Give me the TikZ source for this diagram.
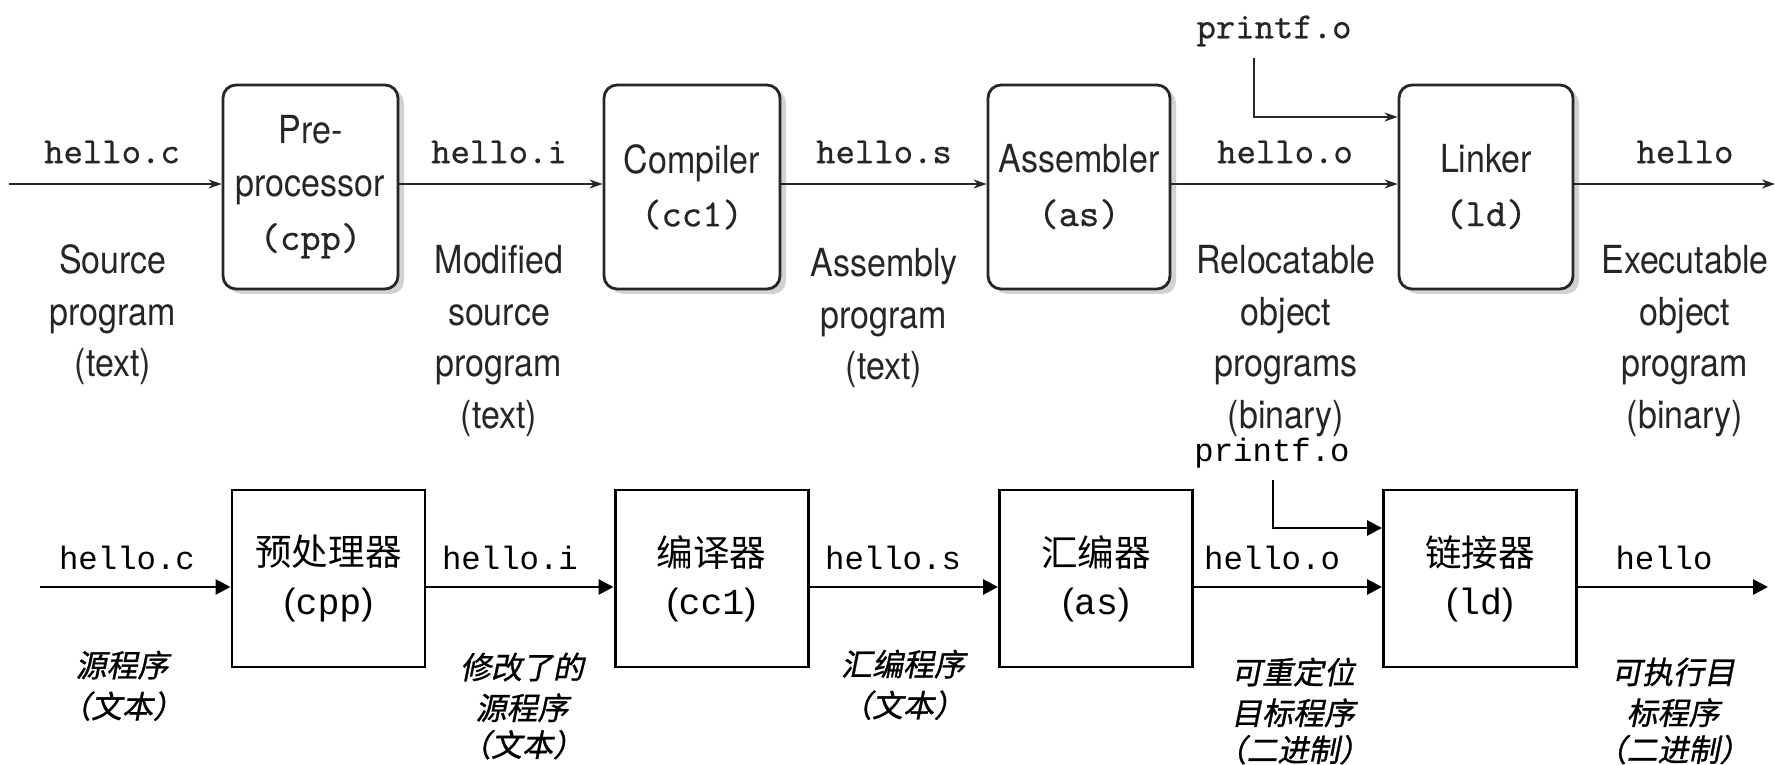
\documentclass[tikz,border=0pt]{standalone}
\usepackage{fontspec}
\usetikzlibrary{shadows, arrows.meta}
\newfontfamily\helv[FakeStretch=0.88]{TeX Gyre Heros}
\newfontfamily\lmtt[FakeBold=0.6]{Latin Modern Mono}
\newfontfamily\cjk{Noto Sans CJK SC}
\newfontfamily\cjkit[FakeSlant=0.2, FakeBold=1]{Noto Sans CJK SC}
\newfontfamily\cour{Liberation Mono}
\newfontfamily\arial{Liberation Sans}
\newcommand{\zcode}[1]{{\arial(}{\cour #1}{\arial)}}
\newcommand{\tcode}[1]{{\lmtt #1}}

\begin{document}
\begin{tikzpicture}[x=0.1mm, y=-0.1mm,
  stage/.style={draw=black!85, line width=0.8pt, rounded corners=1.3mm, fill=white,
    drop shadow={shadow xshift=0.6mm, shadow yshift=-0.5mm, fill=black!35},
    minimum height=20.4mm, align=center, inner sep=0pt, text=black!85,
    font=\helv\fontsize{11}{15.1}\selectfont},
  zstage/.style={draw, line width=0.85pt, minimum width=19.3mm, minimum height=17.7mm,
    align=center, inner sep=0pt, font=\cjk\fontsize{10.4}{13.7}\selectfont},
  fname/.style={inner sep=0pt, text=black!85, font=\lmtt\fontsize{10.5}{12}\selectfont},
  zfname/.style={inner sep=0pt, font=\cour\fontsize{9.2}{11}\selectfont},
  desc/.style={anchor=north, inner sep=0pt, align=center, text=black!85,
    font=\helv\fontsize{11}{14.65}\selectfont},
  zdesc/.style={anchor=north, inner sep=0pt, align=center,
    font=\cjkit\fontsize{8.8}{10.5}\selectfont},
  arr/.style={draw=black!85, line width=0.55pt, -{Stealth[length=1.3mm, width=0.9mm]}},
  zarr/.style={line width=0.8pt, -{Triangle[length=1.5mm, width=1.5mm]}}
]
\useasboundingbox (0,0) rectangle (1777,765);

% upper row
\node[stage, minimum width=17.5mm] (pp) at (310.5,187) {Pre-\\processor\\\tcode{(cpp)}};
\node[stage, minimum width=17.6mm] (cc) at (692,187) {Compiler\\\tcode{(cc1)}};
\node[stage, minimum width=18.2mm] (as) at (1079,187) {Assembler\\\tcode{(as)}};
\node[stage, minimum width=17.4mm] (ln) at (1486,187) {Linker\\\tcode{(ld)}};

\coordinate (tin) at (9,184);
\coordinate (tout) at (1775,184);
\coordinate (tpa) at (1254,58);
\coordinate (tpb) at (1254,117);
\draw[arr] (tin) -- (pp.west |- tin);
\draw[arr] (pp.east |- tin) -- (cc.west |- tin);
\draw[arr] (cc.east |- tin) -- (as.west |- tin);
\draw[arr] (as.east |- tin) -- (ln.west |- tin);
\draw[arr] (ln.east |- tin) -- (tout);
\draw[arr] (tpa) -- (tpb) -- (tpb -| ln.west);

\node[fname] (fc) at (112,152) {hello.c};
\node[fname] (fi) at (499,152) {hello.i};
\node[fname] (fs) at (884,152) {hello.s};
\node[fname] (fo) at (1285,152) {hello.o};
\node[fname] (fx) at (1685,152) {hello};
\node[fname] (fp) at (1274,31) {printf.o};

\node[desc] (dc) at (113,237) {\strut Source\\program\\(text)};
\node[desc] (di) at (499,237) {\strut Modified\\source\\program\\(text)};
\node[desc] (ds) at (884,240) {\strut Assembly\\program\\(text)};
\node[desc] (do) at (1286,237) {\strut Relocatable\\object\\programs\\(binary)};
\node[desc] (dx) at (1685,237) {\strut Executable\\object\\program\\(binary)};

% lower row
\node[zstage] (zpp) at (328.5,578.5) {预处理器\\\zcode{cpp}};
\node[zstage] (zcc) at (711.5,578.5) {编译器\\\zcode{cc1}};
\node[zstage] (zas) at (1096,578.5) {汇编器\\\zcode{as}};
\node[zstage] (zln) at (1480,578.5) {链接器\\\zcode{ld}};

\coordinate (bin) at (40,587);
\coordinate (bout) at (1768,587);
\coordinate (bpa) at (1273,480);
\coordinate (bpb) at (1273,528);
\draw[zarr] (bin) -- (zpp.west |- bin);
\draw[zarr] (zpp.east |- bin) -- (zcc.west |- bin);
\draw[zarr] (zcc.east |- bin) -- (zas.west |- bin);
\draw[zarr] (zas.east |- bin) -- (zln.west |- bin);
\draw[zarr] (zln.east |- bin) -- (bout);
\draw[zarr] (bpa) -- (bpb) -- (bpb -| zln.west);

\node[zfname] (zfc) at (127,558) {hello.c};
\node[zfname] (zfi) at (510,558) {hello.i};
\node[zfname] (zfs) at (893,558) {hello.s};
\node[zfname] (zfo) at (1272,558) {hello.o};
\node[zfname] (zfx) at (1664,558) {hello};
\node[zfname] (zfp) at (1272,453) {printf.o};

\node[zdesc] (zdc) at (122,650) {\strut 源程序\\（文本）};
\node[zdesc] (zdi) at (522,652) {\strut 修改了的\\源程序\\（文本）};
\node[zdesc] (zds) at (903,649) {\strut 汇编程序\\（文本）};
\node[zdesc] (zdo) at (1293,657) {\strut 可重定位\\目标程序\\（二进制）};
\node[zdesc] (zdx) at (1673,657) {\strut 可执行目\\标程序\\（二进制）};
%\draw[help lines] (0,0) grid[step=100] (1777,765);
\end{tikzpicture}
\end{document}
